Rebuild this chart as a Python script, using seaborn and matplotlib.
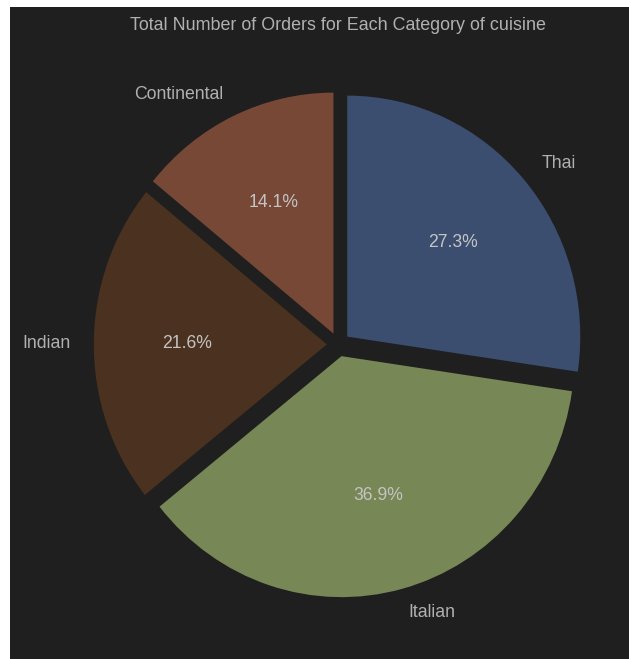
import matplotlib
matplotlib.use("Agg")
import matplotlib.pyplot as plt
from matplotlib.patches import Rectangle
import seaborn as sns

# Order counts share per cuisine (percent of all orders)
cuisines = ["Thai", "Italian", "Indian", "Continental"]
order_share = [27.3, 36.9, 21.6, 14.1]
slice_colors = ["#3b4e6f", "#788756", "#4a3120", "#774835"]

BG = "#1f1f1f"
TEXT = "#b0b0b0"

sns.set_theme(style="dark", rc={
    "axes.facecolor": BG,
    "figure.facecolor": "white",
    "text.color": TEXT,
})
plt.rcParams["font.family"] = ["Liberation Sans", "DejaVu Sans"]

W, H = 629, 659
fig = plt.figure(figsize=(W / 100, H / 100), dpi=100)

# dark panel behind the chart
fig.patches.append(Rectangle((10 / W, 0), 1 - 10 / W, 1 - 7 / H,
                             transform=fig.transFigure, facecolor=BG,
                             edgecolor="none", zorder=-10))

ax = fig.add_axes([47.2 / W, 13.25 / H, 582.5 / W, 602.5 / H])
ax.set_facecolor(BG)

palette = sns.color_palette(slice_colors)
wedges, labels, pcts = ax.pie(
    order_share,
    labels=cuisines,
    colors=palette,
    explode=[0.05] * len(order_share),
    startangle=90,
    counterclock=False,
    autopct="%1.1f%%",
    wedgeprops={"linewidth": 0, "edgecolor": "none"},
    textprops={"color": TEXT, "fontsize": 12.7},
)
for t in pcts:
    t.set_color("#c4c4c4")
    t.set_fontsize(12.7)

ax.set_aspect("auto")
ax.set_xlim(-1.25, 1.25)
ax.set_ylim(-1.25, 1.25)
ax.axis("off")

fig.text(338 / W, 1 - 25 / H, "Total Number of Orders for Each Category of cuisine",
         ha="center", va="center", color=TEXT, fontsize=12.9)

fig.savefig("out.png", dpi=100, facecolor="white")
